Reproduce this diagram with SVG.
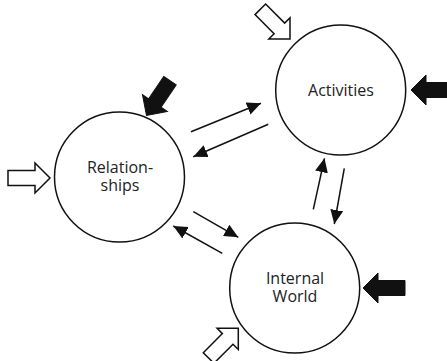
<svg xmlns="http://www.w3.org/2000/svg" width="447" height="361" viewBox="0 0 447 361">
  <style>
    .node circle { fill: #fff; stroke: #111; stroke-width: 1.5; }
    .label { font-family: "Open Sans", "Noto Sans", "Liberation Sans", sans-serif; font-size: 16px; fill: #222; text-anchor: middle; }
    .conn { stroke: #111; stroke-width: 1.5; fill: none; marker-end: url(#ah); }
    .hollow { fill: #fff; stroke: #111; stroke-width: 1.5; stroke-linejoin: miter; }
    .solid { fill: #111; stroke: #111; stroke-width: 1; }
  </style>
  <defs>
    <marker id="ah" viewBox="0 0 14 13" refX="14" refY="6.5" markerWidth="14" markerHeight="13" markerUnits="userSpaceOnUse" orient="auto">
      <path d="M0,0 L14,6.5 L0,13 Z" fill="#111"/>
    </marker>
    <path id="blk" d="M-42,-7.5 H-15 V-15 L0,0 L-15,15 V7.5 H-42 Z"/>
  </defs>

  <g id="relationships" class="node">
    <circle cx="119.5" cy="177" r="65"/>
    <text class="label"><tspan x="120" y="173">Relation-</tspan><tspan x="120" dy="18">ships</tspan></text>
  </g>

  <g id="activities" class="node">
    <circle cx="340.7" cy="90" r="65"/>
    <text class="label" x="341" y="96">Activities</text>
  </g>

  <g id="internal-world" class="node">
    <circle cx="294.7" cy="288" r="65"/>
    <text class="label"><tspan x="295" y="284">Internal</tspan><tspan x="295" dy="18">World</tspan></text>
  </g>

  <g id="external-arrows">
    <use href="#blk" class="hollow" transform="translate(50,178)"/>
    <use href="#blk" class="solid" transform="translate(146.5,115.5) rotate(124)"/>
    <use href="#blk" class="hollow" transform="translate(290,39) rotate(45)"/>
    <use href="#blk" class="solid" transform="translate(411,90) rotate(180)"/>
    <use href="#blk" class="solid" transform="translate(363,288) rotate(180)"/>
    <use href="#blk" class="hollow" transform="translate(238.3,328.3) rotate(-45)"/>
  </g>

  <g id="connectors">
    <line class="conn" x1="191" y1="131.7" x2="261" y2="103.3"/>
    <line class="conn" x1="268.3" y1="124.3" x2="193.3" y2="156.7"/>
    <line class="conn" x1="193.3" y1="211.7" x2="238.3" y2="237.3"/>
    <line class="conn" x1="222.3" y1="253.3" x2="173.3" y2="226"/>
    <line class="conn" x1="313.3" y1="209.3" x2="324.5" y2="158.3"/>
    <line class="conn" x1="344.3" y1="168.3" x2="334.3" y2="224"/>
  </g>
</svg>
